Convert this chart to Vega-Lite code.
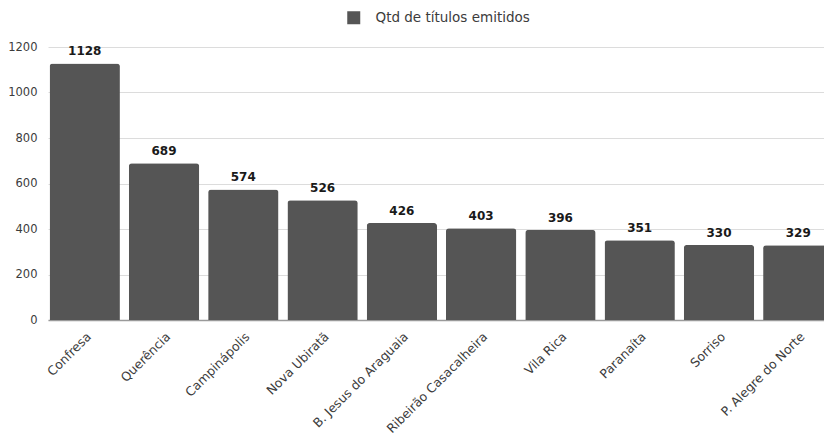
{
  "$schema": "https://vega.github.io/schema/vega-lite/v6.json",
  "autosize": "none",
  "width": 776,
  "height": 273,
  "padding": {"left": 48, "top": 47, "right": 0, "bottom": 124},
  "background": "white",
  "config": {
    "view": {"stroke": null},
    "font": "DejaVu Sans"
  },
  "data": {
    "values": [
      {"municipio": "Confresa", "titulos": 1128},
      {"municipio": "Querência", "titulos": 689},
      {"municipio": "Campinápolis", "titulos": 574},
      {"municipio": "Nova Ubiratã", "titulos": 526},
      {"municipio": "B. Jesus do Araguaia", "titulos": 426},
      {"municipio": "Ribeirão Casacalheira", "titulos": 403},
      {"municipio": "Vila Rica", "titulos": 396},
      {"municipio": "Paranaíta", "titulos": 351},
      {"municipio": "Sorriso", "titulos": 330},
      {"municipio": "P. Alegre do Norte", "titulos": 329}
    ]
  },
  "encoding": {
    "x": {
      "field": "municipio",
      "type": "nominal",
      "sort": null,
      "scale": {"range": [0, 787], "paddingInner": 0.113, "paddingOuter": 0.02},
      "axis": {
        "title": null,
        "labelAngle": -45,
        "labelFont": "DejaVu Sans",
        "labelFontSize": 12.5,
        "labelColor": "#3c3c3c",
        "labelPadding": 10,
        "ticks": false,
        "domain": true,
        "domainColor": "#9a9a9a",
        "domainWidth": 1.5,
        "labelOverlap": false
      }
    },
    "y": {
      "field": "titulos",
      "type": "quantitative",
      "scale": {"domain": [0, 1200], "nice": false},
      "axis": {
        "title": null,
        "values": [0, 200, 400, 600, 800, 1000, 1200],
        "format": "d",
        "ticks": false,
        "domain": false,
        "labelPadding": 11,
        "labelFont": "DejaVu Sans",
        "labelFontSize": 11.5,
        "labelColor": "#3c3c3c",
        "gridColor": "#dcdcdc",
        "gridWidth": 1
      }
    }
  },
  "layer": [
    {
      "mark": {"type": "bar", "cornerRadiusTopLeft": 3, "cornerRadiusTopRight": 3},
      "encoding": {
        "color": {
          "datum": "Qtd de títulos emitidos",
          "scale": {"range": ["#555555"]},
          "legend": {
            "title": null,
            "orient": "none",
            "legendX": 299,
            "legendY": -36,
            "symbolType": "square",
            "symbolSize": 169,
            "symbolStrokeWidth": 0,
            "labelFont": "DejaVu Sans",
            "labelFontSize": 13.5,
            "labelColor": "#3c3c3c",
            "labelOffset": 15
          }
        }
      }
    },
    {
      "mark": {
        "type": "text",
        "baseline": "bottom",
        "dy": -5,
        "font": "DejaVu Sans",
        "fontWeight": "bold",
        "fontSize": 12,
        "color": "#1a1a1a"
      },
      "encoding": {
        "text": {"field": "titulos", "type": "quantitative"}
      }
    }
  ]
}
